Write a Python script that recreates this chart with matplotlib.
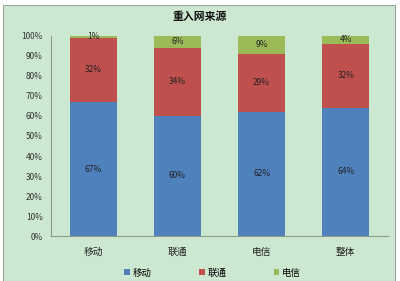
import matplotlib
matplotlib.use("Agg")
import matplotlib.pyplot as plt
import numpy as np
from matplotlib.patches import Rectangle

plt.rcParams['font.family'] = ['Noto Sans CJK SC', 'DejaVu Sans']

categories = ["移动", "联通", "电信", "整体"]
series_names = ["移动", "联通", "电信"]
yidong = [67, 60, 62, 64]
liantong = [32, 34, 29, 32]
dianxin = [1, 6, 9, 4]
colors = ["#4F81BD", "#C0504D", "#9BBB59"]
bg = "#CDE8D0"

fig = plt.figure(figsize=(4, 2.81), dpi=100, facecolor="white")
# chart area
fig.patches.append(Rectangle((3 / 400, 0), 392 / 400, 276 / 281, transform=fig.transFigure,
                             facecolor=bg, edgecolor="#9aa89c", linewidth=0.8, zorder=-5))

ax = fig.add_axes([51 / 400, 45 / 281, 337 / 400, 200 / 281])
ax.set_facecolor("none")
ax.set_zorder(2)

x = np.arange(len(categories))
w = 0.56
bottom = np.zeros(len(categories))
for vals, name, c in zip([yidong, liantong, dianxin], series_names, colors):
    vals = np.array(vals)
    bars = ax.bar(x, vals, w, bottom=bottom, color=c, label=name, zorder=2)
    for xi, b, v in zip(x, bottom, vals):
        ax.text(xi, b + v / 2, "%d%%" % v, ha="center", va="center",
                fontsize=6, color="#222222", zorder=3)
    bottom = bottom + vals

ax.set_xlim(-0.5, 3.5)
ax.set_ylim(0, 100)
ax.set_yticks(range(0, 101, 10))
ax.set_yticklabels(["%d%%" % t for t in range(0, 101, 10)], fontsize=6, color="#333333")
ax.set_xticks(x)
ax.set_xticklabels(categories, fontsize=7, color="#222222")
ax.tick_params(length=0, pad=6)
ax.tick_params(axis="x", pad=8)
for s in ["top", "right"]:
    ax.spines[s].set_visible(False)
ax.spines["left"].set_color("#8c9a8e")
ax.spines["bottom"].set_color("#8c9a8e")
ax.spines["left"].set_linewidth(0.8)
ax.spines["bottom"].set_linewidth(0.8)

fig.text(0.5, 1 - 17 / 281, "重入网来源", ha="center", va="center",
         fontsize=7.8, fontweight="bold", color="#111111")

leg = fig.legend(loc="center", bbox_to_anchor=(0.532, 1 - 273 / 281), ncol=3,
                 frameon=False, fontsize=6.8, handlelength=0.6, handleheight=0.6,
                 handletextpad=0.3, columnspacing=5.0)

fig.savefig("out.png", dpi=100, facecolor=fig.get_facecolor())
